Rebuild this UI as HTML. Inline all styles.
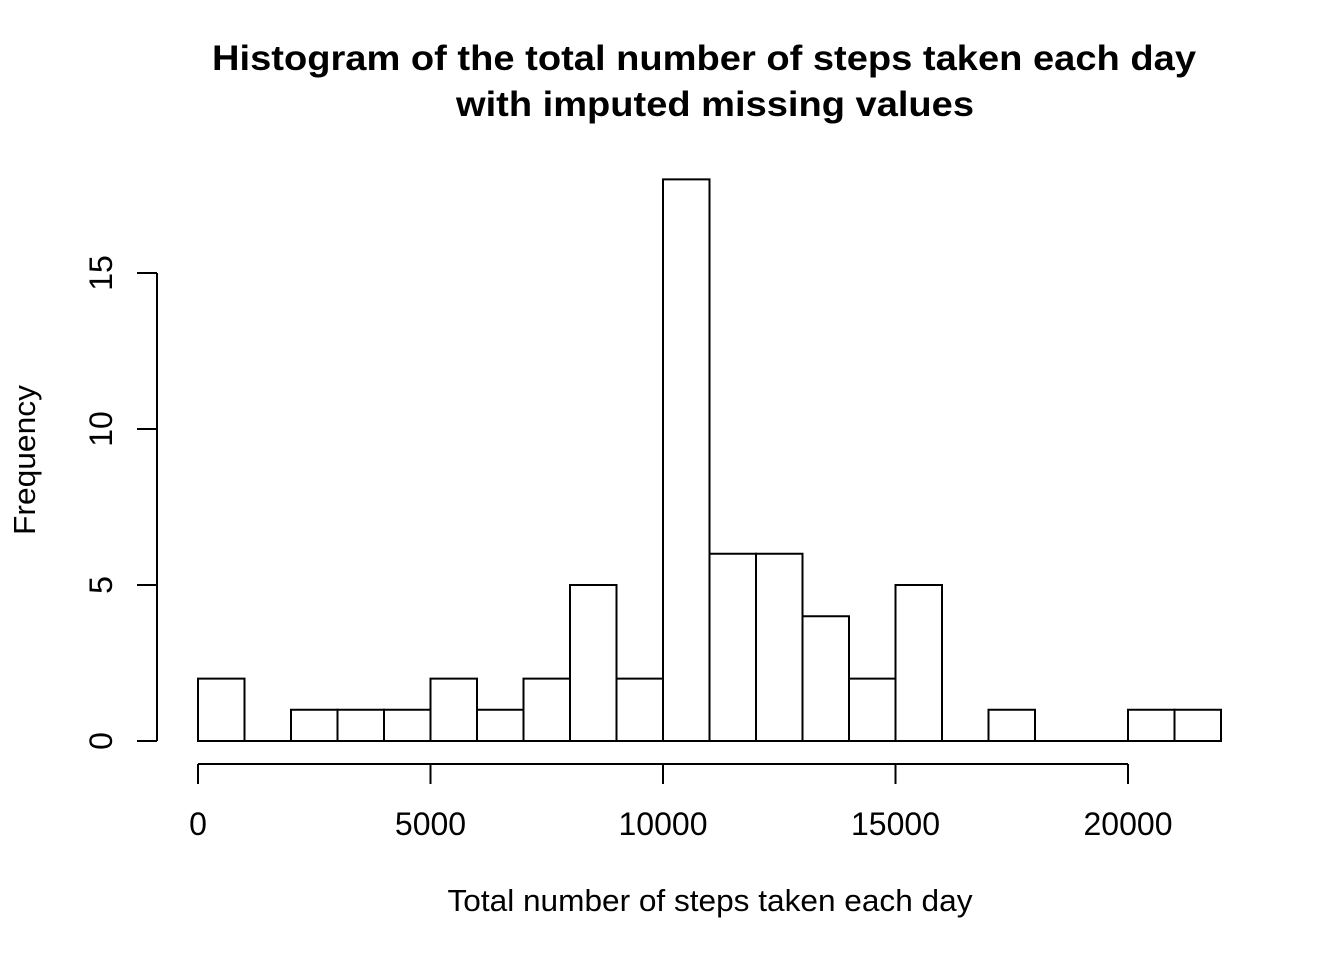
<!DOCTYPE html>
<html><head><meta charset="utf-8"><style>
html,body{margin:0;padding:0;background:#fff;}
svg text{font-family:"Liberation Sans",Arial,sans-serif;fill:#000;}
</style></head><body>
<svg id="chart" width="1344" height="960" xmlns="http://www.w3.org/2000/svg">
<rect width="1344" height="960" fill="#fff"/>
<text x="704" y="70" text-anchor="middle" font-size="35" font-weight="bold" textLength="984" lengthAdjust="spacingAndGlyphs">Histogram of the total number of steps taken each day</text>
<text x="715" y="116" text-anchor="middle" font-size="35" font-weight="bold" textLength="518" lengthAdjust="spacingAndGlyphs">with imputed missing values</text>
<text x="710" y="911" text-anchor="middle" font-size="31" textLength="525" lengthAdjust="spacingAndGlyphs">Total number of steps taken each day</text>
<text transform="translate(35,460) rotate(-90)" text-anchor="middle" font-size="31" textLength="150" lengthAdjust="spacingAndGlyphs">Frequency</text>
<g id="bars"></g>
<g id="xaxis"></g>
<g id="yaxis"></g>
</svg>
<script>
const binStarts = [0,1000,2000,3000,4000,5000,6000,7000,8000,9000,10000,11000,12000,13000,14000,15000,16000,17000,18000,19000,20000,21000];
const counts = [2,0,1,1,1,2,1,2,5,2,18,6,6,4,2,5,0,1,0,0,1,1];
const binWidth = 1000;
const xTicks = [0,5000,10000,15000,20000];
const yTicks = [0,5,10,15];
const NS='http://www.w3.org/2000/svg';
function xs(v){return 198 + v*(1128-198)/20000;}
function ys(v){return 741 - v*(741-273)/15;}
function mk(tag,attrs,parent){const e=document.createElementNS(NS,tag);for(const k in attrs)e.setAttribute(k,attrs[k]);parent.appendChild(e);return e;}
const bars=document.getElementById('bars');
binStarts.forEach((s,i)=>{
  const x0=xs(s),x1=xs(s+binWidth),y0=ys(0),y1=ys(counts[i]);
  const p=mk('path',{d:`M${x0},${y0}V${y1}H${x1}V${y0}Z`,fill:'none',stroke:'#000','stroke-width':2},bars);
  
  
});
const xa=document.getElementById('xaxis');
mk('line',{x1:xs(xTicks[0]),x2:xs(xTicks[xTicks.length-1]),y1:764,y2:764,stroke:'#000','stroke-width':2},xa);
xTicks.forEach(t=>{
  mk('line',{x1:xs(t),x2:xs(t),y1:764,y2:784,stroke:'#000','stroke-width':2},xa);
  const tx=mk('text',{x:xs(t),y:835,'text-anchor':'middle','font-size':32},xa);
  tx.textContent=t;
  
  
});
const ya=document.getElementById('yaxis');
mk('line',{x1:157,x2:157,y1:ys(yTicks[0]),y2:ys(yTicks[yTicks.length-1]),stroke:'#000','stroke-width':2},ya);
yTicks.forEach(t=>{
  mk('line',{x1:137,x2:157,y1:ys(t),y2:ys(t),stroke:'#000','stroke-width':2},ya);
  const tx=mk('text',{transform:`translate(112,${ys(t)}) rotate(-90)`,'text-anchor':'middle','font-size':32},ya);
  tx.textContent=t;
  
  
});
</script>
</body></html>
